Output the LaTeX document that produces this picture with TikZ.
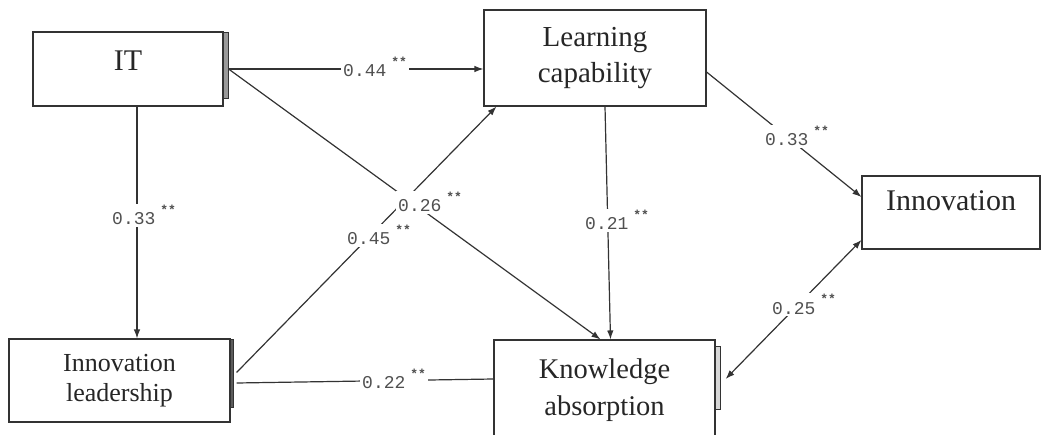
\documentclass[tikz,border=0pt]{standalone}
\usepackage{fontspec}
\setmainfont{Liberation Serif}
\setmonofont{Liberation Mono}
\usetikzlibrary{arrows.meta}
\definecolor{ln}{HTML}{333333}
\definecolor{lb}{HTML}{505050}
\definecolor{sh}{HTML}{9A9A9A}
\newcommand{\stars}{\hspace{5pt}\raisebox{10pt}{\fontsize{13}{13}\bfseries\selectfont **}}
\tikzset{
  box/.style={draw=ln, line width=1.1pt, rectangle, inner sep=0pt, align=center, text=black!85},
  shadowbox/.style={draw=ln, line width=0.8pt, fill=sh},
  edge/.style={draw=ln, line width=1.2pt, -{Latex[length=9pt,width=6.5pt]}},
  plain/.style={draw=ln, line width=1.2pt},
  dedge/.style={draw=ln, line width=1.2pt, {Latex[length=9pt,width=6.5pt]}-{Latex[length=9pt,width=6.5pt]}},
  lbl/.style={font=\ttfamily\fontsize{18}{18}\selectfont, text=lb, fill=white, inner sep=2pt, anchor=base west}
}
\begin{document}
\begin{tikzpicture}[x=1pt,y=-1pt]
\useasboundingbox (0,0) rectangle (1043,435);
\clip (0,0) rectangle (1043,435);
% boxes
\node[box, minimum width=190pt, minimum height=74pt, font=\fontsize{30}{34}\selectfont, text height=22pt, text depth=18.6pt] (IT) at (128,69) {IT};
\node[box, minimum width=222pt, minimum height=96pt, font=\fontsize{29}{36}\selectfont] (LC) at (595,58) {Learning\\capability};
\node[box, minimum width=178pt, minimum height=73pt, font=\fontsize{30}{34}\selectfont, text height=20pt, text depth=23pt] (Inn) at (951,212.5) {Innovation};
\node[box, minimum width=221pt, minimum height=83pt, font=\fontsize{26}{30}\selectfont] (IL) at (119.5,380.5) {Innovation\\leadership};
\node[box, minimum width=221pt, minimum height=100pt, font=\fontsize{28.5}{37}\selectfont] (KA) at (604.5,390) {Knowledge\\absorption};
% shadows
\draw[shadowbox] ([yshift=-1pt]IT.north east) rectangle ++(5,66);
\draw[shadowbox, fill=ln!80] ([yshift=-1pt]IL.north east) rectangle ++(3,68);
\draw[shadowbox, fill=sh!40] ([yshift=-7pt]KA.north east) rectangle ++(5,63);
% connectors
\draw[edge] ([xshift=5pt]IT.east) -- (IT.east -| LC.west);
\draw[edge] ([xshift=5pt]IT.east) -- ([xshift=-4pt]KA.north);
\draw[edge] ([xshift=9pt]IT.south) -- ([xshift=9pt]IT.south |- IL.north);
\draw[edge] ([xshift=10pt]LC.south) -- ([xshift=6pt]KA.north);
\draw[edge] ([yshift=-14pt]LC.east) -- ([yshift=15.5pt]Inn.west);
\draw[edge] ([xshift=6pt,yshift=8pt]IL.east) -- ([xshift=13pt]LC.south west);
\draw[plain] ([xshift=6pt,yshift=-2.5pt]IL.east) -- ([yshift=11pt]KA.west);
\draw[dedge] ([xshift=10pt,yshift=11pt]KA.east) -- ([yshift=-27.5pt]Inn.west);
% labels
\node[lbl] (l1) at (341,76.5) {0.44\stars};
\node[lbl] (l2) at (110,225) {0.33\stars};
\node[lbl] (l3) at (396,212) {0.26\stars};
\node[lbl] (l4) at (345,245) {0.45\stars};
\node[lbl] (l5) at (583,230) {0.21\stars};
\node[lbl] (l6) at (763,146) {0.33\stars};
\node[lbl] (l7) at (770,314) {0.25\stars};
\node[lbl] (l8) at (360,388) {0.22\stars};
\end{tikzpicture}
\end{document}
